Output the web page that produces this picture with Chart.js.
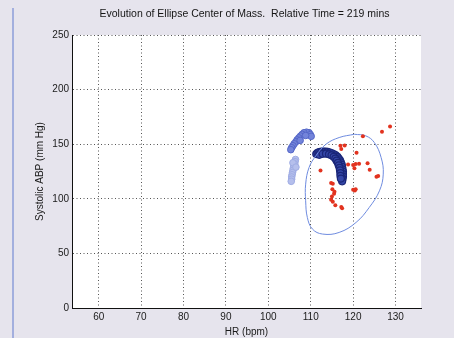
<!DOCTYPE html>
<html>
<head>
<meta charset="utf-8">
<script src="https://cdn.jsdelivr.net/npm/chart.js@4"></script>
<style>
  html, body { margin: 0; padding: 0; background: #e7e5ee; }
  #wrap { width: 454px; height: 338px; }
</style>
</head>
<body>
<div id="wrap"><canvas id="ellipse-chart" width="454" height="338"></canvas></div>
<script>
var chartTitle = 'Evolution of Ellipse Center of Mass.  Relative Time = 219 mins';

// x ticks (HR) and y ticks (ABP)
var hrTicks = [60, 70, 80, 90, 100, 110, 120, 130];
var abpTicks = [0, 50, 100, 150, 200, 250];

// earliest centers (palest)
var earlyHR  = [106.4, 106.3, 106.2, 106.0, 105.9, 105.8, 105.7, 105.6, 105.5, 105.5, 105.4, 105.8, 106.5];
var earlyABP = [136.0, 134.0, 132.0, 130.0, 128.0, 126.0, 124.0, 122.0, 120.0, 118.0, 116.0, 133.0, 129.0];

// middle centers
var midHR  = [109.6, 109.0, 108.4, 109.9, 108.0, 107.6, 107.2, 106.8, 106.5, 106.1, 105.8, 105.5, 105.3, 110.1, 108.8, 107.5];
var midABP = [160.5, 161.0, 160.5, 158.8, 159.0, 157.5, 155.8, 154.0, 152.2, 150.4, 148.6, 146.8, 145.0, 157.2, 158.0, 153.5];

// latest centers (dark arc)
var lateHR  = [111.3, 111.6, 112.0, 112.5, 113.0, 113.5, 114.0, 114.5, 115.0, 115.5, 115.9, 116.3, 116.6, 116.9, 117.1, 117.3, 117.4, 117.5, 117.6, 117.6, 117.6, 117.5, 117.4,
               112.0, 112.8, 113.6, 114.3, 114.9, 115.4, 115.8, 116.1, 116.4, 116.6, 116.8, 116.9, 117.0, 117.0, 117.1];
var lateABP = [141.0, 142.0, 142.8, 143.2, 143.3, 143.2, 142.9, 142.4, 141.7, 140.8, 139.7, 138.4, 136.9, 135.2, 133.3, 131.3, 129.2, 127.0, 124.8, 122.6, 120.4, 118.2, 116.0,
               140.3, 141.2, 141.3, 140.7, 139.8, 138.4, 136.8, 134.9, 132.9, 130.7, 128.4, 126.0, 123.5, 121.0, 118.5];

// current beats
var beatHR  = [128.7, 126.8, 122.3, 117.0, 118.0, 117.2, 120.8, 112.3, 118.8, 120.0, 120.6, 121.4, 120.3, 123.4, 123.9, 125.5, 125.9,
               114.8, 115.2, 115.1, 115.6, 115.5, 120.0, 120.4, 120.6, 114.8, 115.2, 115.8, 117.2, 115.0, 117.4];
var beatABP = [166.2, 161.5, 157.2, 148.6, 148.7, 145.6, 142.2, 126.0, 131.3, 130.9, 131.8, 132.2, 127.9, 132.5, 126.5, 120.3, 120.8,
               114.5, 113.7, 108.7, 106.5, 104.6, 108.3, 107.7, 108.8, 99.2, 97.4, 94.0, 92.5, 102.0, 91.3];

// outline of the fitted ellipse
var ellipseHR  = [120.3, 123.0, 125.0, 126.6, 127.1, 126.2, 123.8, 120.7, 116.7, 112.8, 110.4, 109.2, 108.8, 108.8, 109.6, 111.2, 113.6, 116.7, 120.3];
var ellipseABP = [159.1, 157.6, 151.5, 137.8, 122.6, 107.3, 92.1, 78.4, 69.2, 67.7, 72.3, 82.9, 98.2, 113.4, 128.7, 139.3, 150.0, 156.1, 159.1];

function toPoints(xs, ys) {
    return xs.map(function (x, i) {
        return { x: x, y: ys[i] };
    });
}

var font = { family: 'Arial, "Liberation Sans", sans-serif', size: 10 };

// grey window, white axes box, blue frame edge on the left
var backdrop = {
    id: 'backdrop',
    beforeDraw: function (chart) {
        var ctx = chart.ctx;
        var a = chart.chartArea;
        ctx.save();
        ctx.fillStyle = '#e6e4ed';
        ctx.fillRect(0, 0, chart.width, chart.height);
        ctx.fillStyle = '#ffffff';
        ctx.fillRect(a.left, a.top, a.right - a.left, a.bottom - a.top);
        ctx.strokeStyle = '#8d9ed8';
        ctx.lineWidth = 1.5;
        ctx.beginPath();
        ctx.moveTo(13, 8);
        ctx.lineTo(13, chart.height);
        ctx.stroke();
        ctx.restore();
    }
};

// title centred over the axes box
var axesTitle = {
    id: 'axesTitle',
    afterDraw: function (chart) {
        var ctx = chart.ctx;
        var a = chart.chartArea;
        ctx.save();
        ctx.fillStyle = '#151515';
        ctx.font = '10.5px ' + font.family;
        ctx.textAlign = 'center';
        ctx.textBaseline = 'middle';
        ctx.fillText(chartTitle, (a.left + a.right) / 2 - 2, 14);
        ctx.restore();
    }
};

var ctx = document.getElementById('ellipse-chart').getContext('2d');
var ellipseChart = new Chart(ctx, {
    type: 'scatter',
    data: {
        datasets: [{
            label: 'Beats',
            data: toPoints(beatHR, beatABP),
            backgroundColor: '#e2331f',
            borderColor: '#e2331f',
            pointRadius: 2,
            borderWidth: 0,
            order: 0
        }, {
            label: 'Ellipse',
            data: toPoints(ellipseHR, ellipseABP),
            showLine: true,
            tension: 0.4,
            borderColor: '#6f8ce0',
            borderWidth: 1,
            pointRadius: 0,
            fill: false,
            order: 1
        }, {
            label: 'Late',
            data: toPoints(lateHR, lateABP),
            backgroundColor: '#3547a8',
            borderColor: '#1a2678',
            pointRadius: 3.5,
            borderWidth: 1.2,
            order: 2
        }, {
            label: 'Mid',
            data: toPoints(midHR, midABP),
            backgroundColor: '#7384da',
            borderColor: '#5567c8',
            pointRadius: 3.3,
            borderWidth: 1,
            order: 3
        }, {
            label: 'Early',
            data: toPoints(earlyHR, earlyABP),
            backgroundColor: '#b5bfec',
            borderColor: '#a0ade4',
            pointRadius: 3.3,
            borderWidth: 1,
            order: 4
        }]
    },
    options: {
        responsive: false,
        animation: false,
        events: [],
        layout: { padding: { left: 0, right: 33, top: 35, bottom: 0 } },
        plugins: {
            legend: { display: false },
            tooltip: { enabled: false },
            title: { display: false }
        },
        scales: {
            x: {
                type: 'linear',
                min: 53.7,
                max: 136,
                afterBuildTicks: function (axis) {
                    axis.ticks = hrTicks.map(function (v) { return { value: v }; });
                },
                afterFit: function (axis) { axis.height = 30; },
                grid: { color: '#555555', lineWidth: 1, drawTicks: false },
                border: { display: true, color: '#111111', width: 1, dash: [1, 2.5] },
                ticks: { color: '#1a1a1a', font: font, padding: 3, maxRotation: 0 },
                title: {
                    display: true,
                    text: 'HR (bpm)',
                    color: '#1a1a1a',
                    font: font,
                    padding: { top: 0, bottom: 0 }
                }
            },
            y: {
                type: 'linear',
                min: 0,
                max: 250,
                afterBuildTicks: function (axis) {
                    axis.ticks = abpTicks.map(function (v) { return { value: v }; });
                },
                afterFit: function (axis) { axis.width = 72; },
                grid: { color: '#555555', lineWidth: 1, drawTicks: false },
                border: { display: true, color: '#111111', width: 1, dash: [1, 2.5] },
                ticks: { color: '#1a1a1a', font: font, padding: 3 },
                title: {
                    display: true,
                    text: 'Systolic ABP (mm Hg)',
                    color: '#1a1a1a',
                    font: font,
                    padding: { top: 34, bottom: 0 }
                }
            }
        }
    },
    plugins: [backdrop, axesTitle]
});
</script>
</body>
</html>
